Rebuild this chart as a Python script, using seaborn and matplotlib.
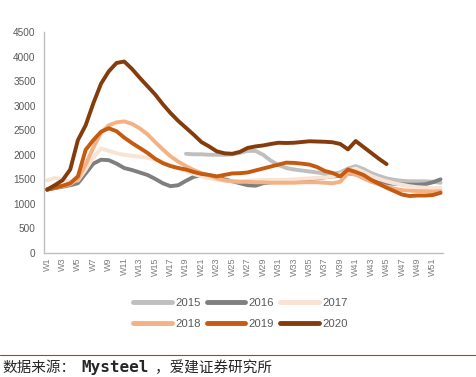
import matplotlib
matplotlib.use('Agg')
import matplotlib.pyplot as plt
import numpy as np
import pandas as pd
import seaborn as sns
from matplotlib.lines import Line2D

sns.set_style('white')
plt.rcParams['font.family'] = ['Liberation Sans', 'Noto Sans CJK SC', 'DejaVu Sans']

nan = np.nan
weeks = list(range(1, 53))
years = ['2015', '2016', '2017', '2018', '2019', '2020']
colors = ['#BFBFBF', '#7F7F7F', '#F8E4D5', '#F4B183', '#C55A11', '#843C0C']

y2015 = [nan] * 18 + [2020, 2010, 2010, 2000, 2000, 2000, 2010, 2040, 2080, 2080,
                      2000, 1880, 1790, 1730, 1700, 1680, 1660, 1640, 1620, 1610,
                      1640, 1720, 1770, 1710, 1630, 1570, 1520, 1490, 1470, 1460,
                      1460, 1460, 1450, 1430]
y2016 = [1290, 1320, 1350, 1380, 1420, 1620, 1820, 1900, 1890, 1820,
         1730, 1690, 1640, 1590, 1510, 1420, 1360, 1380, 1470, 1550,
         1580, 1560, 1540, 1500, 1460, 1420, 1380, 1370, 1420, 1440,
         1450, 1460, 1470, 1480, 1500, 1520, 1540, 1560, 1570, 1620,
         1600, 1540, 1480, 1440, 1420, 1410, 1400, 1390, 1390, 1400,
         1440, 1500]
y2017 = [1480, 1530, 1500, 1450, 1480, 1700, 1950, 2130, 2080, 2030,
         2000, 1980, 1960, 1940, 1900, 1850, 1790, 1730, 1670, 1610,
         1560, 1520, 1490, 1470, 1460, 1460, 1470, 1480, 1490, 1490,
         1490, 1490, 1500, 1510, 1520, 1530, 1540, 1560, 1600, 1680,
         1720, 1650, 1570, 1510, 1460, 1420, 1390, 1360, 1340, 1330,
         1320, 1330]
y2018 = [1300, 1330, 1360, 1400, 1500, 1800, 2150, 2450, 2600, 2660,
         2680, 2630, 2540, 2420, 2260, 2110, 1970, 1860, 1770, 1690,
         1630, 1580, 1520, 1480, 1460, 1450, 1450, 1440, 1440, 1430,
         1430, 1430, 1430, 1440, 1440, 1440, 1430, 1420, 1450, 1620,
         1600, 1520, 1450, 1400, 1350, 1310, 1280, 1270, 1260, 1260,
         1250, 1260]
y2019 = [1290, 1330, 1370, 1420, 1560, 2100, 2300, 2470, 2540, 2480,
         2350, 2240, 2140, 2040, 1920, 1830, 1770, 1730, 1700, 1650,
         1610, 1590, 1560, 1590, 1620, 1625, 1640, 1680, 1720, 1760,
         1800, 1840, 1835, 1820, 1800, 1750, 1670, 1630, 1560, 1700,
         1650, 1590, 1490, 1410, 1330, 1260, 1190, 1160, 1170, 1170,
         1180, 1225]
y2020 = [1290, 1380, 1480, 1700, 2300, 2600, 3050, 3450, 3700, 3870,
         3900, 3750, 3570, 3400, 3230, 3030, 2850, 2690, 2550, 2410,
         2260, 2170, 2070, 2030, 2020, 2060, 2140, 2170, 2190, 2220,
         2245, 2240, 2245, 2260, 2275, 2270, 2265, 2255, 2220, 2110,
         2280, 2160, 2040, 1920, 1810] + [nan] * 7

series = [y2015, y2016, y2017, y2018, y2019, y2020]
frames = [pd.DataFrame({'week': weeks, 'value': s, 'year': yr}) for yr, s in zip(years, series)]
df = pd.concat(frames).dropna()

fig = plt.figure(figsize=(4.76, 3.77), dpi=100)
ax = fig.add_axes([0.0924, 0.329, 0.838, 0.586])

sns.lineplot(data=df, x='week', y='value', hue='year', hue_order=years,
             palette=dict(zip(years, colors)), linewidth=2.8, ax=ax,
             solid_capstyle='round', solid_joinstyle='round', legend=False)

ax.set_xlim(0.6, 52.3)
ax.set_ylim(0, 4500)
ax.set_yticks(range(0, 4501, 500))
ax.set_xticks(weeks[::2])
ax.set_xticklabels(['W%d' % w for w in weeks[::2]], rotation=90)
ax.set_xlabel('')
ax.set_ylabel('')
ax.tick_params(axis='y', labelsize=7.2, colors='#595959', length=0, pad=6)
ax.tick_params(axis='x', labelsize=6.5, colors='#7F7F7F', length=0, pad=3)
for side in ['top', 'right']:
    ax.spines[side].set_visible(False)
for side in ['left', 'bottom']:
    ax.spines[side].set_color('#BFBFBF')
    ax.spines[side].set_linewidth(1)

handles = [Line2D([], [], color=c, linewidth=3.5, solid_capstyle='round') for c in colors]
order = [0, 3, 1, 4, 2, 5]
fig.legend([handles[i] for i in order], [years[i] for i in order],
           loc='center', bbox_to_anchor=(0.505, 0.168), ncol=3, frameon=False,
           fontsize=8.2, labelcolor='#595959', handlelength=3.4, handletextpad=0.3,
           columnspacing=0.5, labelspacing=1.0)

fig.add_artist(Line2D([0, 1], [0.059, 0.059], color='#9C4A22', linewidth=0.8,
                      transform=fig.transFigure))
fig.text(0.006, 0.025, '数据来源：', fontsize=10.5, va='center',
         family=['Noto Sans CJK SC'])
fig.text(0.172, 0.025, 'Mysteel', fontsize=11.5, va='center', weight='bold',
         family=['DejaVu Sans Mono'])
fig.text(0.326, 0.025, '，爱建证券研究所', fontsize=10.5, va='center',
         family=['Noto Sans CJK SC'])

fig.savefig('out.png', dpi=100)
